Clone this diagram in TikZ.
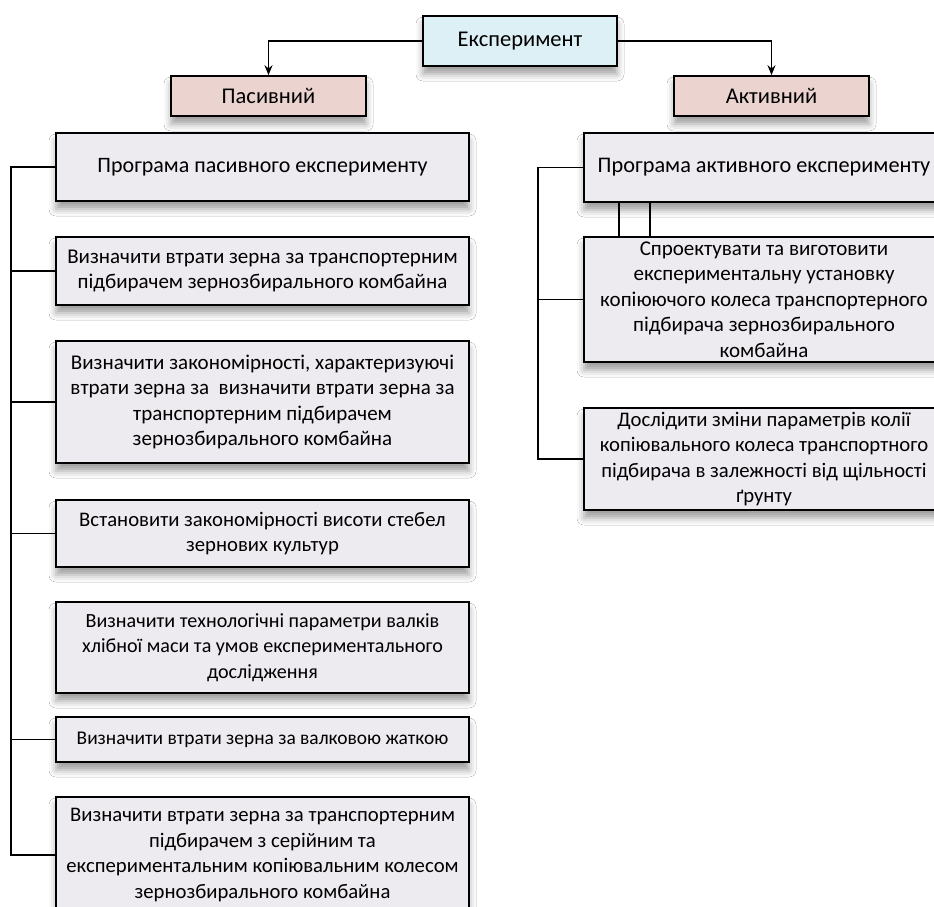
\documentclass[tikz,border=0pt]{standalone}
\usepackage{fontspec}
\setmainfont{Carlito}
\usetikzlibrary{arrows.meta,shadows.blur}
\definecolor{boxgrey}{HTML}{EDEAF0}
\definecolor{expblue}{HTML}{DDF0F6}
\definecolor{pinkbox}{HTML}{EBD3D0}
\begin{document}
\begin{tikzpicture}[x=1pt,y=-1pt,
  base/.style={draw=black, line width=1.6pt, inner sep=0pt, align=center,
    font=\fontsize{21}{25.5}\selectfont,
    blur shadow={shadow xshift=0pt, shadow yshift=-8pt, shadow blur radius=7pt, shadow opacity=38}},
  box/.style={base, fill=boxgrey},
  topbox/.style={base, fill=expblue},
  kindbox/.style={base, fill=pinkbox},
  fs/.style={font=\fontsize{#1}{25.5}\selectfont},
  conn/.style={draw=black, line width=1.5pt},
  arr/.style={conn, -{Stealth[length=10pt,width=8pt]}}]
\fill[white] (0,0) rectangle (934,907);
\useasboundingbox (0,0) rectangle (934,907);

\node[topbox, fs=22.5, minimum width=194pt, minimum height=50pt] (exp) at (520,41) {Експеримент};
\node[kindbox, fs=22.5, minimum width=195pt, minimum height=40pt] (pas) at (268.5,96) {Пасивний};
\node[kindbox, fs=22.5, minimum width=195pt, minimum height=40pt] (act) at (771.5,96) {Активний};

\node[box, fs=22, minimum width=413pt, minimum height=68pt] (l1) at (262.5,167) {Програма пасивного експерименту};
\node[box, fs=21, minimum width=413pt, minimum height=68pt] (l2) at (262.5,271) {Визначити втрати зерна за транспортерним\\підбирачем зернозбирального комбайна};
\node[box, fs=21, minimum width=413pt, minimum height=122pt] (l3) at (262.5,402) {Визначити закономірності, характеризуючі\\втрати зерна за~~визначити втрати зерна за\\транспортерним підбирачем\\зернозбирального комбайна};
\node[box, fs=20.7, minimum width=413pt, minimum height=67pt] (l4) at (262.5,533.5) {Встановити закономірності висоти стебел\\зернових культур};
\node[box, fs=20.1, minimum width=413pt, minimum height=91pt] (l5) at (262.5,647.5) {Визначити технологічні параметри валків\\хлібної маси та умов експериментального\\дослідження};
\node[box, fs=19.4, minimum width=413pt, minimum height=45pt] (l6) at (262.5,739.5) {Визначити втрати зерна за валковою жаткою};
\node[box, fs=20.7, minimum width=413pt, minimum height=116pt] (l7) at (262.5,855) {Визначити втрати зерна за транспортерним\\підбирачем з серійним та\\експериментальним копіювальним колесом\\зернозбирального комбайна};

\node[box, fs=22.3, minimum width=360pt, minimum height=69pt] (r1) at (764,167.5) {Програма активного експерименту};
\node[box, fs=21, minimum width=360pt, minimum height=125pt] (r2) at (764,299.5) {Спроектувати та виготовити\\експериментальну установку\\копіюючого колеса транспортерного\\підбирача зернозбирального\\комбайна};
\node[box, fs=20.7, minimum width=360pt, minimum height=102pt] (r3) at (764,459) {Дослідити зміни параметрів колії\\копіювального колеса транспортного\\підбирача в залежності від щільності\\ґрунту};

\draw[arr] (exp.west) -| (pas.north);
\draw[arr] (exp.east) -| (act.north);

\coordinate (lt) at (11,0);
\draw[conn] (l1.west) -- (l1.west -| lt) -- (l7.west -| lt) -- (l7.west);
\draw[conn] (l2.west -| lt) -- (l2.west);
\draw[conn] (l3.west -| lt) -- (l3.west);
\draw[conn] (l4.west -| lt) -- (l4.west);
\draw[conn] (l6.west -| lt) -- (l6.west);

\coordinate (rt) at (538,0);
\draw[conn] (r1.west) -- (r1.west -| rt) -- (r3.west -| rt) -- (r3.west);
\draw[conn] (r2.west -| rt) -- (r2.west);
\coordinate (v1) at (619,0);
\coordinate (v2) at (650,0);
\draw[conn] (r1.south -| v1) -- (r2.north -| v1);
\draw[conn] (r1.south -| v2) -- (r2.north -| v2);
\end{tikzpicture}
\end{document}
